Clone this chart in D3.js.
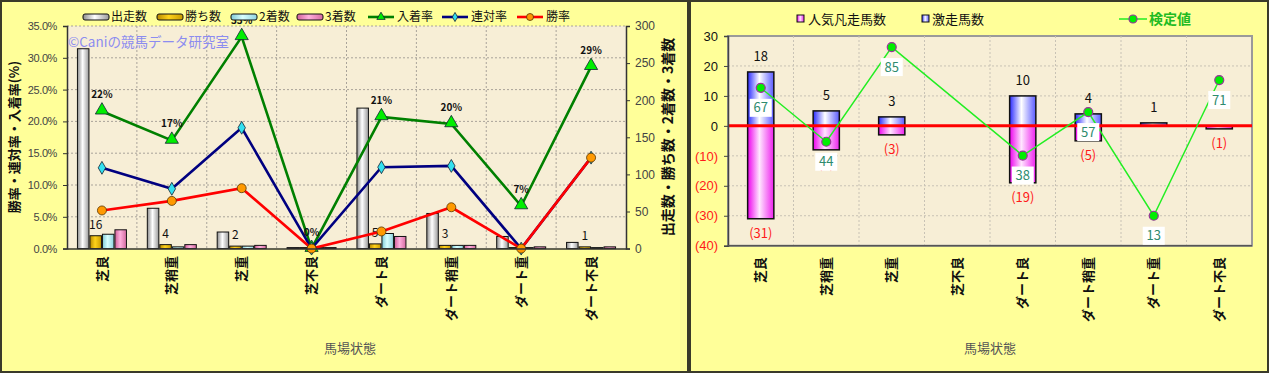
<!DOCTYPE html>
<html>
<head>
<meta charset="utf-8">
<script src="https://cdn.jsdelivr.net/npm/d3@7"></script>
<style>
  body { margin: 0; background: #fff; }
  svg { display: block; font-family: "Noto Sans CJK JP", "Noto Sans", sans-serif; }
</style>
</head>
<body>
<script>
// ---- left chart data (馬場状態別 成績) ----
var categories = ["芝良", "芝稍重", "芝重", "芝不良", "ダート良", "ダート稍重", "ダート重", "ダート不良"];
var starts   = [268, 53, 21, 0, 188, 46, 15, 7];   // 出走数
var wins     = [16, 4, 2, 0, 5, 3, 0, 1];          // 勝ち数
var seconds  = [18, 1, 2, 0, 19, 3, 0, 0];         // 2着数
var thirds   = [24, 4, 3, 0, 15, 3, 1, 1];         // 3着数
var winRate      = [6.0, 7.5, 9.5, 0, 2.7, 6.5, 0, 14.3];     // 勝率
var quinellaRate = [12.7, 9.4, 19.0, 0, 12.8, 13.0, 0, 14.3]; // 連対率
var placeRate    = [21.6, 17.0, 33.3, 0, 20.7, 19.6, 6.7, 28.6]; // 入着率
var leftTicks  = [0, 5, 10, 15, 20, 25, 30, 35];
var rightTicks = [0, 50, 100, 150, 200, 250, 300];

// ---- right chart data ----
var upsetCounts = [18, 5, 3, 0, 10, 4, 1, 0];   // 激走馬数
var flopCounts  = [31, 8, 3, 0, 19, 5, 0, 1];   // 人気凡走馬数
var testPos     = [12.7, -5.3, 26.3, null, -9.9, 4.6, -30, 15.3]; // 検定値 (plotted)
var testLabels  = [67, 44, 85, null, 38, 57, 13, 71];
var diffTicks   = [-40, -30, -20, -10, 0, 10, 20, 30];

var svg = d3.select("body").append("svg")
  .attr("width", 1270)
  .attr("height", 374);

var defs = svg.append("defs");
function grad(id, c1, c2, c3) {
  var g = defs.append("linearGradient").attr("id", id)
    .attr("x1", "0%").attr("x2", "100%").attr("y1", "0%").attr("y2", "0%");
  g.append("stop").attr("offset", "0%").attr("stop-color", c1);
  g.append("stop").attr("offset", "45%").attr("stop-color", c2);
  g.append("stop").attr("offset", "100%").attr("stop-color", c3);
}
grad("gStart", "#8c8c8c", "#ffffff", "#9a9a9a");
grad("gWin", "#b88a00", "#ffd21a", "#c99a00");
grad("gSecond", "#7fc9d6", "#d8ffff", "#8fd3df");
grad("gThird", "#d0609a", "#ffb0dd", "#d46aa0");
grad("gUp", "#2a2aff", "#ffffff", "#5a5aff");
grad("gFlop", "#ee00ee", "#ffe6ff", "#ee22ee");

var paper = "#f7eed6";
var gridColor = "#a9a39a";

// panels
svg.append("rect").attr("x", 1).attr("y", 1).attr("width", 687).attr("height", 371)
  .attr("fill", "#ffff99").attr("stroke", "#3a3a2a").attr("stroke-width", 2);
svg.append("rect").attr("x", 690).attr("y", 1).attr("width", 578).attr("height", 371)
  .attr("fill", "#ffff99").attr("stroke", "#3a3a2a").attr("stroke-width", 2);

// ================= LEFT CHART =================
var L = {left: 67, right: 626, top: 26, bottom: 248.6};
var x = d3.scaleBand().domain(categories).range([L.left, L.right]);
var bw = x.bandwidth();
var groupW = 50;
var sub = d3.scaleBand().domain([0, 1, 2, 3]).range([0, groupW]);
var yL = d3.scaleLinear().domain([0, 35]).range([L.bottom, L.top]);
var yR = d3.scaleLinear().domain([0, 300]).range([L.bottom, L.top]);
var cx = function(i) { return x(categories[i]) + bw / 2; };

var left = svg.append("g");
left.append("rect").attr("x", L.left).attr("y", L.top)
  .attr("width", L.right - L.left).attr("height", L.bottom - L.top).attr("fill", paper);

left.append("g").selectAll("line").data(leftTicks.slice(1)).join("line")
  .attr("x1", L.left).attr("x2", L.right)
  .attr("y1", function(d) { return yL(d); }).attr("y2", function(d) { return yL(d); })
  .attr("stroke", gridColor).attr("stroke-dasharray", "2,2");
left.append("g").selectAll("line").data(categories.slice(1)).join("line")
  .attr("x1", function(d) { return x(d); }).attr("x2", function(d) { return x(d); })
  .attr("y1", L.top).attr("y2", L.bottom)
  .attr("stroke", gridColor).attr("stroke-dasharray", "2,2");

// bars
var barSeries = [
  {values: starts, fill: "url(#gStart)"},
  {values: wins, fill: "url(#gWin)"},
  {values: seconds, fill: "url(#gSecond)"},
  {values: thirds, fill: "url(#gThird)"}
];
barSeries.forEach(function(s, k) {
  left.append("g").selectAll("rect").data(s.values).join("rect")
    .attr("x", function(d, i) { return x(categories[i]) + (bw - groupW) / 2 + sub(k) + 0.5; })
    .attr("width", sub.bandwidth() - 1)
    .attr("y", function(d) { return yR(d) - 1; })
    .attr("height", function(d) { return L.bottom - yR(d) + 1; })
    .attr("fill", s.fill)
    .attr("stroke", "#111").attr("stroke-width", 1);
});

// win count labels (above the 勝ち数 bar)
left.append("g").selectAll("text").data(wins).join("text")
  .attr("x", function(d, i) { return x(categories[i]) + (bw - groupW) / 2 + sub(1) + sub.bandwidth() / 2; })
  .attr("y", function(d) { return yR(d) - 8; })
  .attr("text-anchor", "middle").attr("font-size", 12).attr("fill", "#111")
  .text(function(d) { return d > 0 ? d : ""; });

// rate lines
var lineSeries = [
  {values: placeRate, stroke: "#008000", marker: "tri", fill: "#00ee00"},
  {values: quinellaRate, stroke: "#000080", marker: "dia", fill: "#33e0f0"},
  {values: winRate, stroke: "#ff0000", marker: "cir", fill: "#ff9900"}
];
var line = d3.line().x(function(d, i) { return cx(i); }).y(function(d) { return yL(d); });
lineSeries.forEach(function(s) {
  left.append("path").datum(s.values).attr("d", line)
    .attr("fill", "none").attr("stroke", s.stroke).attr("stroke-width", 2.6);
});
function drawMarker(g, type, fill, px, py) {
  if (type === "cir") {
    g.append("circle").attr("cx", px).attr("cy", py).attr("r", 4.5)
      .attr("fill", fill).attr("stroke", "#553300").attr("stroke-width", 0.8);
  } else {
    var sym = type === "tri" ? d3.symbol(d3.symbolTriangle, 75) : d3.symbol(d3.symbolDiamond, 48);
    g.append("path").attr("d", sym()).attr("transform", "translate(" + px + "," + (type === "tri" ? py - 1 : py) + ")")
      .attr("fill", fill).attr("stroke", "#123").attr("stroke-width", 0.8);
  }
}
lineSeries.forEach(function(s) {
  var g = left.append("g");
  s.values.forEach(function(v, i) { drawMarker(g, s.marker, s.fill, cx(i), yL(v)); });
});

// place rate labels
left.append("g").selectAll("text").data(placeRate).join("text")
  .attr("x", function(d, i) { return cx(i); })
  .attr("y", function(d) { return yL(d) - 13; })
  .attr("text-anchor", "middle").attr("font-size", 10).attr("font-weight", "bold").attr("fill", "#111")
  .text(function(d) { return Math.round(d) + "%"; });

// axes
var axL = left.append("g").attr("transform", "translate(" + L.left + ",0)")
  .call(d3.axisLeft(yL).tickValues(leftTicks).tickSize(4).tickPadding(6)
    .tickFormat(function(d) { return d.toFixed(1) + "%"; }));
var axR = left.append("g").attr("transform", "translate(" + L.right + ",0)")
  .call(d3.axisRight(yR).tickValues(rightTicks).tickSize(4).tickPadding(5));
var axB = left.append("g").attr("transform", "translate(0," + L.bottom + ")")
  .call(d3.axisBottom(x).tickSize(0).tickFormat(""));
[axL, axR, axB].forEach(function(a) {
  a.select(".domain").attr("stroke", "#333").attr("stroke-width", 1.5);
  a.selectAll(".tick line").attr("stroke", "#333");
  a.selectAll("text").attr("font-size", 12).attr("fill", "#444")
    .attr("font-family", "'Liberation Sans', sans-serif");
});
axL.selectAll("text").attr("font-size", 11).attr("letter-spacing", -0.4);

// x labels
left.append("g").selectAll("text").data(categories).join("text")
  .attr("transform", function(d, i) { return "translate(" + cx(i) + ",256) rotate(-90)"; })
  .attr("text-anchor", "end").attr("dy", "0.35em")
  .attr("font-size", 13).attr("font-weight", "bold").attr("fill", "#111")
  .text(function(d) { return d; });

left.append("text").attr("x", 350).attr("y", 353).attr("text-anchor", "middle")
  .attr("font-size", 13).attr("fill", "#555").text("馬場状態");
left.append("text").attr("transform", "translate(14,137) rotate(-90)")
  .attr("text-anchor", "middle").attr("dy", "0.35em")
  .attr("font-size", 13).attr("font-weight", "bold").attr("fill", "#111")
  .text("勝率・連対率・入着率(%)");
left.append("text").attr("transform", "translate(668,137) rotate(-90)")
  .attr("text-anchor", "middle").attr("dy", "0.35em")
  .attr("font-size", 14).attr("font-weight", "bold").attr("fill", "#111")
  .text("出走数・勝ち数・2着数・3着数");

left.append("text").attr("x", 68).attr("y", 47)
  .attr("font-size", 13.5).attr("fill", "#8c8cf0").text("©Caniの競馬データ研究室");

// legend
var legL = left.append("g").attr("font-size", 12).attr("fill", "#111");
var barLegend = [
  {name: "出走数", fill: "url(#gStart)", x: 83},
  {name: "勝ち数", fill: "url(#gWin)", x: 157},
  {name: "2着数", fill: "url(#gSecond)", x: 231},
  {name: "3着数", fill: "url(#gThird)", x: 297}
];
barLegend.forEach(function(b) {
  legL.append("rect").attr("x", b.x).attr("y", 14).attr("width", 26).attr("height", 6).attr("rx", 2)
    .attr("fill", b.fill).attr("stroke", "#111").attr("stroke-width", 1);
  legL.append("text").attr("x", b.x + 28).attr("y", 17).attr("dy", "0.35em").text(b.name);
});
var lineLegend = [
  {name: "入着率", s: lineSeries[0], x: 368},
  {name: "連対率", s: lineSeries[1], x: 442},
  {name: "勝率", s: lineSeries[2], x: 517}
];
lineLegend.forEach(function(b) {
  legL.append("line").attr("x1", b.x).attr("x2", b.x + 26).attr("y1", 17).attr("y2", 17)
    .attr("stroke", b.s.stroke).attr("stroke-width", 2.6);
  var g = legL.append("g");
  if (b.s.marker === "tri") {
    g.append("path").attr("d", d3.symbol(d3.symbolTriangle, 30)()).attr("transform", "translate(" + (b.x + 13) + ",17)")
      .attr("fill", b.s.fill).attr("stroke", "#123").attr("stroke-width", 0.8);
  } else if (b.s.marker === "dia") {
    g.append("path").attr("d", d3.symbol(d3.symbolDiamond, 24)()).attr("transform", "translate(" + (b.x + 13) + ",17)")
      .attr("fill", b.s.fill).attr("stroke", "#123").attr("stroke-width", 0.8);
  } else {
    g.append("circle").attr("cx", b.x + 13).attr("cy", 17).attr("r", 3.5)
      .attr("fill", b.s.fill).attr("stroke", "#553300").attr("stroke-width", 0.8);
  }
  legL.append("text").attr("x", b.x + 29).attr("y", 17).attr("dy", "0.35em").text(b.name);
});

// ================= RIGHT CHART =================
var R = {left: 728, right: 1252, top: 36, bottom: 245.7};
var x2 = d3.scaleBand().domain(categories).range([R.left, R.right]);
var bw2 = x2.bandwidth();
var barW = bw2 * 0.4;
var y2 = d3.scaleLinear().domain([-40, 30]).range([R.bottom, R.top]);
var cx2 = function(i) { return x2(categories[i]) + bw2 / 2; };

var right = svg.append("g");
right.append("rect").attr("x", R.left).attr("y", R.top)
  .attr("width", R.right - R.left).attr("height", R.bottom - R.top)
  .attr("fill", paper).attr("stroke", "#9a9a9a").attr("stroke-width", 2);
right.append("g").selectAll("line").data(diffTicks.slice(1, -1)).join("line")
  .attr("x1", R.left).attr("x2", R.right)
  .attr("y1", function(d) { return y2(d); }).attr("y2", function(d) { return y2(d); })
  .attr("stroke", "#c8c2b5").attr("stroke-dasharray", "2,2");
right.append("g").selectAll("line").data(categories.slice(1)).join("line")
  .attr("x1", function(d) { return x2(d); }).attr("x2", function(d) { return x2(d); })
  .attr("y1", R.top).attr("y2", R.bottom)
  .attr("stroke", "#c8c2b5").attr("stroke-dasharray", "2,2");

// bars
right.append("g").selectAll("rect").data(upsetCounts).join("rect")
  .attr("x", function(d, i) { return cx2(i) - barW / 2; })
  .attr("width", barW)
  .attr("y", function(d) { return y2(d); })
  .attr("height", function(d) { return y2(0) - y2(d); })
  .attr("fill", "url(#gUp)").attr("stroke", "#111").attr("stroke-width", 1.5)
  .attr("display", function(d) { return d > 0 ? null : "none"; });
right.append("g").selectAll("rect").data(flopCounts).join("rect")
  .attr("x", function(d, i) { return cx2(i) - barW / 2; })
  .attr("width", barW)
  .attr("y", y2(0))
  .attr("height", function(d) { return y2(-d) - y2(0); })
  .attr("fill", "url(#gFlop)").attr("stroke", "#111").attr("stroke-width", 1.5)
  .attr("display", function(d) { return d > 0 ? null : "none"; });

// zero line
right.append("line").attr("x1", R.left).attr("x2", R.right)
  .attr("y1", y2(0)).attr("y2", y2(0))
  .attr("stroke", "#ff0000").attr("stroke-width", 3);

// bar labels
right.append("g").selectAll("text").data(upsetCounts).join("text")
  .attr("x", function(d, i) { return cx2(i); })
  .attr("y", function(d) { return y2(d) - 15; })
  .attr("dy", "0.35em").attr("text-anchor", "middle").attr("font-size", 13).attr("fill", "#111")
  .text(function(d) { return d > 0 ? d : ""; });
right.append("g").selectAll("text").data(flopCounts).join("text")
  .attr("x", function(d, i) { return cx2(i); })
  .attr("y", function(d) { return y2(-d) + 15; })
  .attr("dy", "0.35em").attr("text-anchor", "middle").attr("font-size", 13).attr("fill", "#ff1a1a")
  .text(function(d) { return d > 0 ? "(" + d + ")" : ""; });

// test value line
var testPts = testPos.map(function(v, i) { return {v: v, i: i, label: testLabels[i]}; })
  .filter(function(d) { return d.v !== null; });
right.append("path").datum(testPts)
  .attr("d", d3.line().x(function(d) { return cx2(d.i); }).y(function(d) { return y2(d.v); }))
  .attr("fill", "none").attr("stroke", "#22ee22").attr("stroke-width", 1.5);
right.append("g").selectAll("circle").data(testPts).join("circle")
  .attr("cx", function(d) { return cx2(d.i); }).attr("cy", function(d) { return y2(d.v); })
  .attr("r", 4.5).attr("fill", "#00ee00").attr("stroke", "#993399").attr("stroke-width", 1.2);
var tl = right.append("g").selectAll("g").data(testPts).join("g")
  .attr("transform", function(d) { return "translate(" + cx2(d.i) + "," + (y2(d.v) + 20) + ")"; });
tl.append("rect").attr("x", -11).attr("y", -9).attr("width", 22).attr("height", 18).attr("fill", "#fff");
tl.append("text").attr("text-anchor", "middle").attr("dy", "0.35em")
  .attr("font-size", 13).attr("fill", "#2e8b6e").text(function(d) { return d.label; });

// axis
var ax2 = right.append("g").attr("transform", "translate(" + R.left + ",0)")
  .call(d3.axisLeft(y2).tickValues(diffTicks).tickSize(4).tickPadding(6)
    .tickFormat(function(d) { return d < 0 ? "(" + (-d) + ")" : d; }));
ax2.select(".domain").attr("stroke", "#444").attr("stroke-width", 1.5);
ax2.selectAll(".tick line").attr("stroke", "#444");
ax2.selectAll("text").attr("font-size", 13)
  .attr("font-family", "'Liberation Sans', sans-serif")
  .attr("fill", function(d) { return d < 0 ? "#ff1a1a" : "#111"; });
right.append("line").attr("x1", R.left).attr("x2", R.right).attr("y1", R.bottom).attr("y2", R.bottom)
  .attr("stroke", "#555").attr("stroke-width", 1.5);

right.append("g").selectAll("text").data(categories).join("text")
  .attr("transform", function(d, i) { return "translate(" + cx2(i) + ",257) rotate(-90)"; })
  .attr("text-anchor", "end").attr("dy", "0.35em")
  .attr("font-size", 13).attr("font-weight", "bold").attr("fill", "#111")
  .text(function(d) { return d; });
right.append("text").attr("x", 990).attr("y", 353).attr("text-anchor", "middle")
  .attr("font-size", 13).attr("fill", "#555").text("馬場状態");

// legend
var legR = right.append("g").attr("font-size", 13).attr("fill", "#111");
legR.append("rect").attr("x", 797).attr("y", 15).attr("width", 7).attr("height", 7)
  .attr("fill", "url(#gFlop)").attr("stroke", "#111");
legR.append("text").attr("x", 808).attr("y", 19).attr("dy", "0.35em").text("人気凡走馬数");
legR.append("rect").attr("x", 922).attr("y", 15).attr("width", 7).attr("height", 7)
  .attr("fill", "url(#gUp)").attr("stroke", "#111");
legR.append("text").attr("x", 932).attr("y", 19).attr("dy", "0.35em").text("激走馬数");
legR.append("line").attr("x1", 1119).attr("x2", 1147).attr("y1", 19).attr("y2", 19)
  .attr("stroke", "#22ee22").attr("stroke-width", 1.5);
legR.append("circle").attr("cx", 1133).attr("cy", 19).attr("r", 4)
  .attr("fill", "#00ee00").attr("stroke", "#993399").attr("stroke-width", 1.2);
legR.append("text").attr("x", 1149).attr("y", 19).attr("dy", "0.35em")
  .attr("font-size", 14).attr("font-weight", "bold").attr("fill", "#22bb22").text("検定値");
</script>
</body>
</html>
